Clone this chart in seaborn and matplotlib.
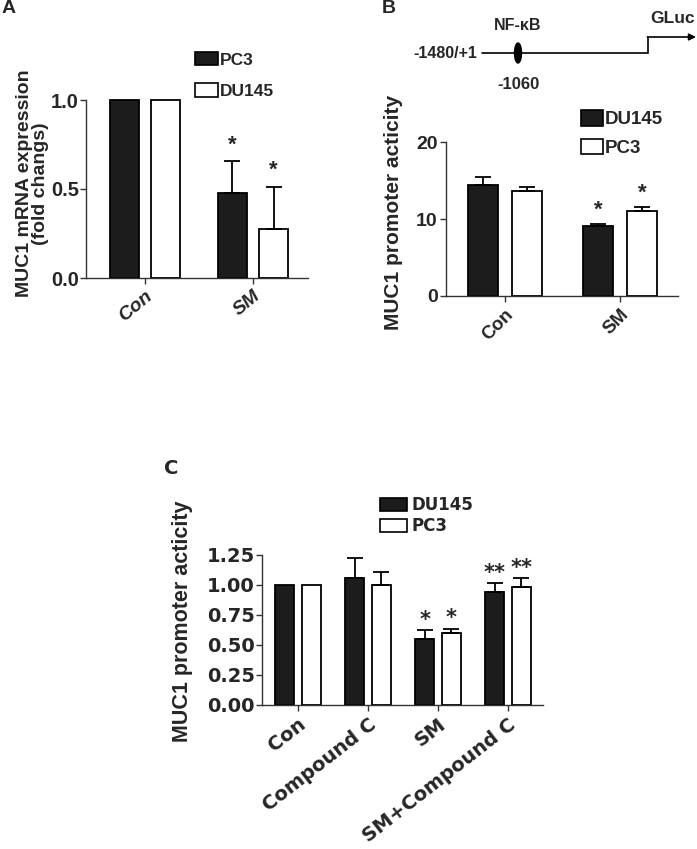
import matplotlib
matplotlib.use("Agg")
import matplotlib.pyplot as plt
from matplotlib.patches import Patch, Ellipse
import seaborn as sns
import pandas as pd
import numpy as np

sns.set_style("ticks")
plt.rcParams['font.family'] = ['Liberation Sans', 'DejaVu Sans']
plt.rcParams['font.weight'] = 'bold'
plt.rcParams['axes.labelweight'] = 'bold'

# ---- Panel A: MUC1 mRNA (fold change)
a_groups = ["Con", "SM"]
a_names = ["PC3", "DU145"]
a_pc3 = [1.0, 0.48]
a_pc3_err = [0.0, 0.175]
a_du145 = [1.0, 0.275]
a_du145_err = [0.0, 0.235]
a_pc3_star = ["", "*"]
a_du145_star = ["", "*"]

# ---- Panel B: promoter activity
b_groups = ["Con", "SM"]
b_names = ["DU145", "PC3"]
b_du145 = [14.4, 9.15]
b_du145_err = [1.0, 0.15]
b_pc3 = [13.7, 11.0]
b_pc3_err = [0.4, 0.5]
b_du145_star = ["", "*"]
b_pc3_star = ["", "*"]

# ---- Panel C: promoter activity with Compound C
c_groups = ["Con", "Compound C", "SM", "SM+Compound C"]
c_names = ["DU145", "PC3"]
c_du145 = [1.0, 1.056, 0.55, 0.94]
c_du145_err = [0.0, 0.166, 0.075, 0.075]
c_pc3 = [1.0, 1.0, 0.597, 0.986]
c_pc3_err = [0.0, 0.108, 0.04, 0.07]
c_du145_star = ["", "", "*", "**"]
c_pc3_star = ["", "", "*", "**"]

BLACK = "#1c1c1c"
W, H = 697, 849

fig = plt.figure(figsize=(6.97, 8.49), dpi=100)


def px_axes(left, top, right, bottom):
    return fig.add_axes([left / W, 1 - bottom / H, (right - left) / W, (bottom - top) / H])


def draw_bars(ax, groups, names, series, errs, stars, star_kw, star_off):
    df = pd.DataFrame({
        "group": list(groups) * len(names),
        "cell": np.repeat(names, len(groups)),
        "value": np.concatenate(series),
    })
    sns.barplot(data=df, x="group", y="value", hue="cell", hue_order=names,
                palette=[BLACK, "white"], edgecolor="black", linewidth=1.3,
                width=0.76, gap=0.3, errorbar=None, legend=False, ax=ax)
    for cont, e_list, s_list in zip(ax.containers, errs, stars):
        for bar, e, s in zip(cont, e_list, s_list):
            bar.set_clip_on(False)
            x = bar.get_x() + bar.get_width() / 2
            top = bar.get_height()
            if e > 0:
                ax.errorbar(x, top, yerr=[[0], [e]], fmt="none", ecolor="black",
                            elinewidth=1.3, capsize=6, capthick=1.3, clip_on=False)
            if s:
                ax.annotate(s, (x, top + e), xytext=(0, star_off), textcoords="offset points",
                            ha="center", va="baseline", **star_kw)
    ax.set_xlabel("")
    sns.despine(ax=ax)
    for sp in ["left", "bottom"]:
        ax.spines[sp].set_linewidth(1.0)
        ax.spines[sp].set_color("#333333")
    ax.tick_params(axis="both", direction="out", length=4, width=1, color="#333333")


# ---------------- Panel A
axA = px_axes(86, 100, 308, 278)
draw_bars(axA, a_groups, a_names, [a_pc3, a_du145], [a_pc3_err, a_du145_err],
          [a_pc3_star, a_du145_star], dict(fontsize=16, fontweight="bold"), 8)
axA.set_xlim(-0.546, 1.509)
axA.set_ylim(0, 1.0)
axA.set_yticks([0, 0.5, 1.0])
axA.set_yticklabels(["0.0", "0.5", "1.0"], fontsize=14.5, fontweight="bold")
axA.tick_params(axis="y", pad=1)
axA.set_xticks(range(len(a_groups)))
axA.set_xticklabels(a_groups, rotation=40, ha="right", va="top", rotation_mode="anchor",
                    fontsize=14, fontweight="bold", fontstyle="italic")
axA.tick_params(axis="x", pad=3)
axA.set_ylabel("MUC1 mRNA expression\n(fold changs)", fontsize=14, fontweight="bold",
               linespacing=0.95)
axA.yaxis.set_label_coords(-0.165, 0.53)
axA.legend(handles=[Patch(facecolor=BLACK, edgecolor="black", lw=1.2),
                    Patch(facecolor="white", edgecolor="black", lw=1.2)],
           labels=a_names, loc="upper left", bbox_to_anchor=(195 / W, 1 - 52 / H),
           bbox_transform=fig.transFigure, frameon=False, borderpad=0, borderaxespad=0,
           handlelength=1.32, handleheight=0.8, handletextpad=0.1, labelspacing=0.9,
           prop=dict(size=12.5, weight="bold"))

# ---------------- Panel B
axB = px_axes(446, 142, 678, 296)
draw_bars(axB, b_groups, b_names, [b_du145, b_pc3], [b_du145_err, b_pc3_err],
          [b_du145_star, b_pc3_star], dict(fontsize=16, fontweight="bold"), 6)
axB.set_xlim(-0.513, 1.504)
axB.set_ylim(0, 20)
axB.set_yticks([0, 10, 20])
axB.set_yticklabels(["0", "10", "20"], fontsize=14, fontweight="bold")
axB.tick_params(axis="y", pad=2)
axB.set_xticks(range(len(b_groups)))
axB.set_xticklabels(b_groups, rotation=45, ha="right", va="top", rotation_mode="anchor",
                    fontsize=13.5, fontweight="bold")
axB.tick_params(axis="x", pad=3)
axB.set_ylabel("MUC1 promoter acticity", fontsize=15, fontweight="bold")
axB.yaxis.set_label_coords(-0.185, 0.54)
axB.legend(handles=[Patch(facecolor=BLACK, edgecolor="black", lw=1.2),
                    Patch(facecolor="white", edgecolor="black", lw=1.2)],
           labels=b_names, loc="upper left", bbox_to_anchor=(581 / W, 1 - 110 / H),
           bbox_transform=fig.transFigure, frameon=False, borderpad=0, borderaxespad=0,
           handlelength=1.17, handleheight=0.9, handletextpad=0.1, labelspacing=0.55,
           prop=dict(size=13.5, weight="bold"))

# ---------------- Panel C
axC = px_axes(262, 555, 543, 705)
draw_bars(axC, c_groups, c_names, [c_du145, c_pc3], [c_du145_err, c_pc3_err],
          [c_du145_star, c_pc3_star],
          dict(fontsize=15, fontweight="bold", family="DejaVu Sans"), 3)
axC.set_xlim(-0.514, 3.5)
axC.set_ylim(0, 1.25)
c_ticks = [0, 0.25, 0.5, 0.75, 1.0, 1.25]
axC.set_yticks(c_ticks)
axC.set_yticklabels([f"{t:.2f}" for t in c_ticks], fontsize=14, fontweight="bold",
                    family="DejaVu Sans")
axC.tick_params(axis="y", pad=1)
axC.set_xticks(range(len(c_groups)))
axC.set_xticklabels(c_groups, rotation=38, ha="right", va="top", rotation_mode="anchor",
                    fontsize=14, fontweight="bold", family="DejaVu Sans")
axC.tick_params(axis="x", pad=3)
axC.set_ylabel("MUC1 promoter acticity", fontsize=15.5, fontweight="bold")
axC.yaxis.set_label_coords(-0.245, 0.56)
axC.legend(handles=[Patch(facecolor=BLACK, edgecolor="black", lw=1.2),
                    Patch(facecolor="white", edgecolor="black", lw=1.2)],
           labels=c_names, loc="upper left", bbox_to_anchor=(380 / W, 1 - 496 / H),
           bbox_transform=fig.transFigure, frameon=False, borderpad=0, borderaxespad=0,
           handlelength=1.6, handleheight=0.85, handletextpad=0.3, labelspacing=0.18,
           prop=dict(size=12, weight="bold", family="DejaVu Sans"))

# ---------------- Panel letters and promoter diagram
axD = fig.add_axes([0, 0, 1, 1], zorder=-1)
axD.set_xlim(0, W)
axD.set_ylim(H, 0)
axD.axis("off")
axD.patch.set_visible(False)

axD.text(2, 8, "A", fontsize=14, fontweight="bold", ha="left", va="center")
axD.text(382, 8, "B", fontsize=14, fontweight="bold", ha="left", va="center")
axD.text(164, 468, "C", fontsize=14, fontweight="bold", ha="left", va="center",
         family="DejaVu Sans")

axD.plot([482, 648, 648], [53, 53, 37], color="black", lw=1.2, solid_joinstyle="miter")
axD.annotate("", xy=(696, 37), xytext=(647.4, 37),
             arrowprops=dict(arrowstyle="-|>", lw=1.2, color="black",
                             mutation_scale=10, shrinkA=0, shrinkB=0))
axD.add_patch(Ellipse((518, 53), 7, 20, color="black"))
axD.text(518, 25, "NF-\u03baB", fontsize=11.5, fontweight="bold", ha="center", va="center")
axD.text(518, 84, "-1060", fontsize=12, fontweight="bold", ha="center", va="center")
axD.text(477, 53, "-1480/+1", fontsize=11.5, fontweight="bold", ha="right", va="center")
axD.text(673, 18, "GLuc", fontsize=12.5, fontweight="bold", ha="center", va="center")

fig.savefig("out.png", dpi=100)
